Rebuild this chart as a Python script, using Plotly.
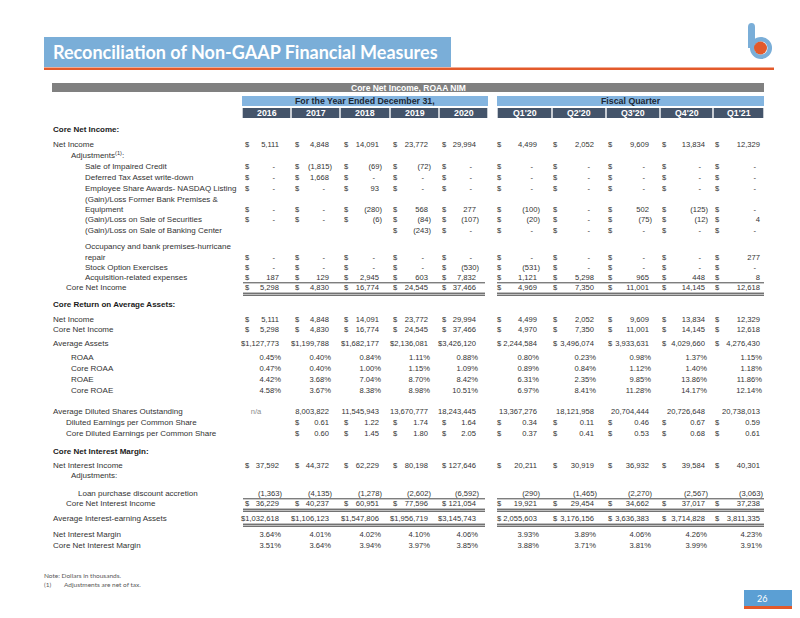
import plotly.graph_objects as go

# ---------------- text content ----------------
TITLE = "Reconciliation of Non-GAAP Financial Measures"
TABLE_TITLE = "Core Net Income, ROAA NIM"
ANNUAL_HEADER = "For the Year Ended December 31,"
QUARTER_HEADER = "Fiscal Quarter"
YEARS = ["2016", "2017", "2018", "2019", "2020"]
QUARTERS = ["Q1'20", "Q2'20", "Q3'20", "Q4'20", "Q1'21"]
NOTE_1 = "Note: Dollars in thousands."
NOTE_2_MARK = "(1)"
NOTE_2 = "Adjustments are net of tax."
PAGE_NUMBER = "26"

# ---------------- data (2016..2020, Q1'20..Q1'21) ----------------
# None = empty cell, 0 = accounting dash
net_income = [5111, 4848, 14091, 23772, 29994, 4499, 2052, 9609, 13834, 12329]
sale_impaired_credit = [0, -1815, -69, -72, 0, 0, 0, 0, 0, 0]
deferred_tax_writedown = [0, 1668, 0, 0, 0, 0, 0, 0, 0, 0]
employee_share_awards = [0, 0, 93, 0, 0, 0, 0, 0, 0, 0]
former_bank_premises = [0, 0, -280, 568, 277, -100, 0, 502, -125, 0]
sale_of_securities = [0, 0, -6, -84, -107, -20, 0, -75, -12, 4]
sale_of_banking_center = [None, None, None, -243, 0, 0, 0, 0, 0, 0]
hurricane_repair = [0, 0, 0, 0, 0, 0, 0, 0, 0, 277]
stock_option_exercises = [0, 0, 0, 0, -530, -531, 0, 0, 0, 0]
acquisition_expenses = [187, 129, 2945, 603, 7832, 1121, 5298, 965, 448, 8]
core_net_income = [5298, 4830, 16774, 24545, 37466, 4969, 7350, 11001, 14145, 12618]
core_net_income_roaa = [5298, 4830, 16774, 24545, 37466, 4970, 7350, 11001, 14145, 12618]
average_assets = [1127773, 1199788, 1682177, 2136081, 3426120,
                  2244584, 3496074, 3933631, 4029660, 4276430]
roaa = [0.45, 0.40, 0.84, 1.11, 0.88, 0.80, 0.23, 0.98, 1.37, 1.15]
core_roaa = [0.47, 0.40, 1.00, 1.15, 1.09, 0.89, 0.84, 1.12, 1.40, 1.18]
roae = [4.42, 3.68, 7.04, 8.70, 8.42, 6.31, 2.35, 9.85, 13.86, 11.86]
core_roae = [4.58, 3.67, 8.38, 8.98, 10.51, 6.97, 8.41, 11.28, 14.17, 12.14]
avg_diluted_shares = [None, 8003822, 11545943, 13670777, 18243445,
                      13367276, 18121958, 20704444, 20726648, 20738013]
diluted_eps = [None, 0.61, 1.22, 1.74, 1.64, 0.34, 0.11, 0.46, 0.67, 0.59]
core_diluted_eps = [None, 0.60, 1.45, 1.80, 2.05, 0.37, 0.41, 0.53, 0.68, 0.61]
net_interest_income = [37592, 44372, 62229, 80198, 127646, 20211, 30919, 36932, 39584, 40301]
loan_discount_accretion = [-1363, -4135, -1278, -2602, -6592, -290, -1465, -2270, -2567, -3063]
core_net_interest_income = [36229, 40237, 60951, 77596, 121054, 19921, 29454, 34662, 37017, 37238]
avg_interest_earning_assets = [1032618, 1106123, 1547806, 1956719, 3145743,
                               2055603, 3176156, 3636383, 3714828, 3811335]
net_interest_margin = [3.64, 4.01, 4.02, 4.10, 4.06, 3.93, 3.89, 4.06, 4.26, 4.23]
core_net_interest_margin = [3.51, 3.64, 3.94, 3.97, 3.85, 3.88, 3.71, 3.81, 3.99, 3.91]

# rows: (label, label style, values, value kind)
ROWS = [
    ("Core Net Income:", "section", None, None),
    ("Net Income", "l0", net_income, "usd"),
    ("Adjustments<sup>(1)</sup>:", "l1", None, None),
    ("Sale of Impaired Credit", "l2", sale_impaired_credit, "usd"),
    ("Deferred Tax Asset write-down", "l2", deferred_tax_writedown, "usd"),
    ("Employee Share Awards- NASDAQ Listing", "l2", employee_share_awards, "usd"),
    ("(Gain)/Loss Former Bank Premises &", "l2", None, None),
    ("Equipment", "l2", former_bank_premises, "usd"),
    ("(Gain)/Loss on Sale of Securities", "l2", sale_of_securities, "usd"),
    ("(Gain)/Loss on Sale of Banking Center", "l2", sale_of_banking_center, "usd"),
    ("Occupancy and bank premises-hurricane", "l2", None, None),
    ("repair", "l2", hurricane_repair, "usd"),
    ("Stock Option Exercises", "l2", stock_option_exercises, "usd"),
    ("Acquisition-related expenses", "l2", acquisition_expenses, "usd"),
    ("Core Net Income", "lt", core_net_income, "usd"),
    ("Core Return on Average Assets:", "section", None, None),
    ("Net Income", "l0", net_income, "usd"),
    ("Core Net Income", "l0", core_net_income_roaa, "usd"),
    ("Average Assets", "l0", average_assets, "asset"),
    ("ROAA", "l1", roaa, "pct"),
    ("Core ROAA", "l1", core_roaa, "pct"),
    ("ROAE", "l1", roae, "pct"),
    ("Core ROAE", "l1", core_roae, "pct"),
    ("Average Diluted Shares Outstanding", "l0", avg_diluted_shares, "shares"),
    ("Diluted Earnings per Common Share", "lt", diluted_eps, "eps"),
    ("Core Diluted Earnings per Common Share", "lt", core_diluted_eps, "eps"),
    ("Core Net Interest Margin:", "section", None, None),
    ("Net Interest Income", "l0", net_interest_income, "usd"),
    ("Adjustments:", "l1", None, None),
    ("Loan purchase discount accretion", "l3", loan_discount_accretion, "plain"),
    ("Core Net Interest Income", "lt", core_net_interest_income, "usd"),
    ("Average Interest-earning Assets", "l0", avg_interest_earning_assets, "asset"),
    ("Net Interest Margin", "l0", net_interest_margin, "pct"),
    ("Core Net Interest Margin", "l0", core_net_interest_margin, "pct"),
]

# ---------------- layout / style ----------------
W, H = 800, 618
BODY_FONT = "Liberation Sans, Arial, sans-serif"
NARROW_FONT = "Liberation Sans Narrow, Arial Narrow, Liberation Sans, sans-serif"
DECO_FONT = "Lato, Open Sans, sans-serif"
TXT = "#333333"
BLUE = "#7aaed8"
ORANGE = "#e35a2b"
SLATE = "#44546a"
LABEL_SIZE = 8.0
VALUE_SIZE = 7.6

ROW_Y = [122, 137, 148, 159, 170, 181, 192, 202, 212, 223, 239, 250, 260, 270, 280,
         297, 312, 322, 336, 350, 361, 372, 383, 404, 415, 426,
         444, 458, 468, 486, 496, 511, 527, 538]
LABEL_X = {"section": 45, "l0": 45, "l1": 63, "lt": 58, "l2": 77, "l3": 70}

ANNUAL_BOUNDS = [234, 283, 332, 382, 431, 480]
QUARTER_BOUNDS = [489, 544, 598, 652, 705, 756]
VALUE_EDGE = [271, 321, 371, 420, 468, 529, 586, 641, 697, 752]
DOLLAR_X = [237, 287, 336, 385, 434, 489, 545, 600, 654, 707]

# ---------------- build text items ----------------
items = {}


def add(key, x, y, t):
    d = items.setdefault(key, {"x": [], "y": [], "t": []})
    d["x"].append(x)
    d["y"].append(y)
    d["t"].append(t)


def fmt(v, dec=0):
    s = f"{abs(v):,.{dec}f}"
    return f"({s})" if v < 0 else s


for (label, style, vals, kind), y in zip(ROWS, ROW_Y):
    add("section" if style == "section" else "label", LABEL_X[style], y, label)
    if vals is None:
        continue
    for i, v in enumerate(vals):
        edge, dx = VALUE_EDGE[i], DOLLAR_X[i]
        if kind == "shares" and v is None:
            add("na", dx + 11, y, "n/a")
            continue
        if v is None:
            continue
        if kind in ("usd", "eps"):
            add("dollar", dx, y, "$")
        if kind == "asset":
            if i < 5:
                add("value", edge, y, "$" + fmt(v))
                continue
            add("dollar", dx, y, "$")
        if kind == "pct":
            add("value", edge + 2, y, f"{v:.2f}%")
        elif kind == "eps":
            add("value", edge, y, f"{v:.2f}")
        elif v == 0:
            add("value", edge - 4, y, "-")
        else:
            s = fmt(v)
            add("value", edge + (3 if s.endswith(")") else 0), y, s)

fig = go.Figure()
trace_style = {
    "label": ("middle right", dict(family=BODY_FONT, size=LABEL_SIZE, color=TXT)),
    "section": ("middle right", dict(family=BODY_FONT, size=LABEL_SIZE, color="#1a1a1a", weight="bold")),
    "dollar": ("middle right", dict(family=BODY_FONT, size=VALUE_SIZE, color=TXT)),
    "value": ("middle left", dict(family=BODY_FONT, size=VALUE_SIZE, color=TXT)),
    "na": ("middle center", dict(family=BODY_FONT, size=VALUE_SIZE, color="#8c8c8c")),
}
for key, d in items.items():
    pos, font = trace_style[key]
    fig.add_trace(go.Scatter(x=d["x"], y=d["y"], text=d["t"], mode="text",
                             textposition=pos, textfont=font, hoverinfo="skip",
                             showlegend=False, cliponaxis=False))

shapes = []


def rect(x0, y0, x1, y1, color):
    shapes.append(dict(type="rect", xref="x", yref="y", x0=x0, y0=y0, x1=x1, y1=y1,
                       fillcolor=color, line=dict(width=0), layer="below"))


def hline(x0, x1, y, w=0.9, color="#333333"):
    shapes.append(dict(type="line", xref="x", yref="y", x0=x0, x1=x1, y0=y, y1=y,
                       line=dict(color=color, width=w)))


# header banner
rect(36, 29, 443, 59, BLUE)
rect(36, 59.5, 766, 62, ORANGE)
# logo
shapes.append(dict(type="path", xref="x", yref="y",
                   path="M 740 40 L 740 19 Q 740 15 743.5 15 Q 747 15 747 19 L 747 40 Z",
                   fillcolor=BLUE, line=dict(width=0)))
shapes.append(dict(type="circle", xref="x", yref="y", x0=744.2, y0=31.2, x1=761.8, y1=48.8,
                   line=dict(color=BLUE, width=4.5), fillcolor="rgba(0,0,0,0)"))
shapes.append(dict(type="circle", xref="x", yref="y", x0=746, y0=33.5, x1=759, y1=46.5,
                   fillcolor=ORANGE, line=dict(width=0)))

# table headers
rect(44, 75, 756, 84, "#808080")
rect(ANNUAL_BOUNDS[0], 88, ANNUAL_BOUNDS[-1], 98, "#84b5e0")
rect(QUARTER_BOUNDS[0], 88, QUARTER_BOUNDS[-1], 98, "#84b5e0")
for bounds in (ANNUAL_BOUNDS, QUARTER_BOUNDS):
    for a, b in zip(bounds[:-1], bounds[1:]):
        rect(a + 0.7, 100, b - 0.7, 110, SLATE)

# under-lines (single above totals, double below totals)
spans = [(ANNUAL_BOUNDS[0] + 1, ANNUAL_BOUNDS[-1] - 3), (QUARTER_BOUNDS[0], QUARTER_BOUNDS[-1])]
single_above = [ROW_Y[14], ROW_Y[30]]
double_below = [ROW_Y[14], ROW_Y[30], ROW_Y[31]]
for yy in single_above:
    for a, b in spans:
        hline(a, b, yy - 5.2)
for yy in double_below:
    for a, b in spans:
        hline(a, b, yy + 5.2, 1.0)
        hline(a, b, yy + 7.2, 1.0)

# page number box
rect(736, 582, 800, 598, "#5b9fd4")
rect(736, 598, 800, 601, ORANGE)

annotations = []


def note(x, y, t, font, anchor="left"):
    annotations.append(dict(x=x, y=y, xref="x", yref="y", text=t, showarrow=False,
                            xanchor=anchor, yanchor="middle", font=font))


note(43, 44, TITLE, dict(family=DECO_FONT, size=18, color="white", weight="bold"))
note(400, 79.5, TABLE_TITLE, dict(family=NARROW_FONT, size=8.5, color="white", weight="bold"), "center")
note((ANNUAL_BOUNDS[0] + ANNUAL_BOUNDS[-1]) / 2, 93, ANNUAL_HEADER,
     dict(family=NARROW_FONT, size=8.8, color="#1d2733", weight="bold"), "center")
note((QUARTER_BOUNDS[0] + QUARTER_BOUNDS[-1]) / 2, 93, QUARTER_HEADER,
     dict(family=NARROW_FONT, size=8.8, color="#1d2733", weight="bold"), "center")
for labels, bounds in ((YEARS, ANNUAL_BOUNDS), (QUARTERS, QUARTER_BOUNDS)):
    for lab, a, b in zip(labels, bounds[:-1], bounds[1:]):
        note((a + b) / 2, 105, lab, dict(family=NARROW_FONT, size=8.8, color="white", weight="bold"), "center")
note(34, 567, NOTE_1, dict(family=DECO_FONT, size=6.5, color="#595959"))
note(34, 576, NOTE_2_MARK, dict(family=DECO_FONT, size=6.5, color="#595959"))
note(54, 576, NOTE_2, dict(family=DECO_FONT, size=6.5, color="#595959"))
note(747, 590, PAGE_NUMBER, dict(family=DECO_FONT, size=9, color="white"))

fig.update_layout(
    width=W, height=H, margin=dict(l=0, r=0, t=0, b=0),
    paper_bgcolor="white", plot_bgcolor="white",
    xaxis=dict(range=[0, W], visible=False, fixedrange=True),
    yaxis=dict(range=[H, 0], visible=False, fixedrange=True),
    shapes=shapes, annotations=annotations, showlegend=False,
)
fig.write_html("out.html")
